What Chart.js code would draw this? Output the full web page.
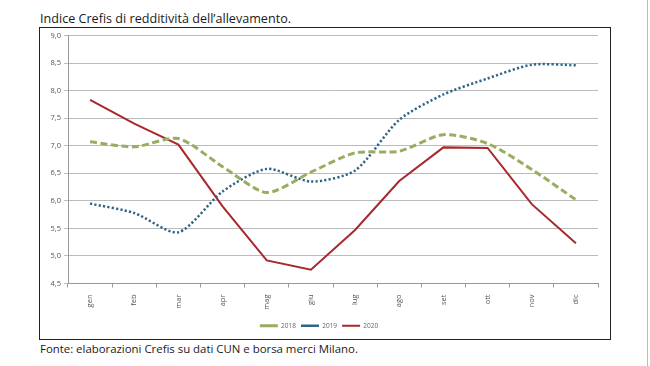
<!DOCTYPE html>
<html>
<head>
<meta charset="utf-8">
<script src="https://cdn.jsdelivr.net/npm/chart.js@4.4.0/dist/chart.umd.min.js"></script>
<style>
  body { margin: 0; background: #fff; width: 650px; height: 366px; position: relative; overflow: hidden; font-family: "Open Sans", sans-serif; }
  .title { position: absolute; left: 40px; top: 10px; font-size: 12.6px; color: #1a1a1a; white-space: nowrap; }
  .foot { position: absolute; left: 40px; top: 341px; font-size: 11.4px; color: #1a1a1a; white-space: nowrap; }
  .box { position: absolute; left: 39px; top: 27px; width: 570px; height: 311px; border: 1.5px solid #222; }
  .edge { position: absolute; left: 647px; top: 0; width: 1px; height: 366px; background: #bbb; }
</style>
</head>
<body>
<div class="title">Indice Crefis di redditività dell’allevamento.</div>
<div class="box"><canvas id="chart"></canvas></div>
<div class="foot">Fonte: elaborazioni Crefis su dati CUN e borsa merci Milano.</div>
<div class="edge"></div>
<script>
const months = ['gen', 'feb', 'mar', 'apr', 'mag', 'giu', 'lug', 'ago', 'set', 'ott', 'nov', 'dic'];
const y2018 = [7.07, 6.98, 7.13, 6.62, 6.15, 6.52, 6.87, 6.9, 7.2, 7.04, 6.57, 6.02];
const y2019 = [5.95, 5.78, 5.43, 6.17, 6.58, 6.35, 6.55, 7.47, 7.93, 8.22, 8.47, 8.46];
const y2020 = [7.83, 7.4, 7.02, 5.9, 4.92, 4.75, 5.47, 6.36, 6.97, 6.96, 5.94, 5.23];

const small = { family: 'Open Sans', size: 7.5 };

new Chart(document.getElementById('chart'), {
  type: 'line',
  data: {
    labels: months,
    datasets: [
      { label: '2018', data: y2018, borderColor: '#98ad62', borderWidth: 3, borderDash: [7, 3.5],
        tension: 0.25, pointRadius: 0, pointStyle: 'line' },
      { label: '2019', data: y2019, borderColor: '#2f6585', borderWidth: 2.5, borderDash: [2.2, 2.2],
        tension: 0.25, pointRadius: 0, pointStyle: 'line' },
      { label: '2020', data: y2020, borderColor: '#a8282c', borderWidth: 2,
        tension: 0, pointRadius: 0, pointStyle: 'line' }
    ]
  },
  options: {
    responsive: true,
    maintainAspectRatio: false,
    animation: false,
    layout: { padding: { top: 4, right: 12, left: 0, bottom: 0 } },
    plugins: {
      tooltip: { enabled: false },
      legend: {
        position: 'bottom',
        labels: {
          usePointStyle: true, pointStyleWidth: 18, boxHeight: 5,
          color: '#666', font: { family: 'Open Sans', size: 6.5 }, padding: 5
        }
      }
    },
    scales: {
      x: {
        offset: true,
        grid: { offset: true, drawOnChartArea: false, tickLength: 4, color: '#999' },
        border: { color: '#999' },
        ticks: { color: '#555', font: small, maxRotation: 90, minRotation: 90, padding: 7 },
        afterFit: s => { s.height = 34; }
      },
      y: {
        min: 4.5, max: 9,
        grid: { color: '#bbb', tickLength: 4 },
        border: { color: '#999' },
        ticks: { stepSize: 0.5, color: '#555', font: small, padding: 3,
          callback: v => v.toFixed(1).replace('.', ',') },
        afterFit: s => { s.width = 28; }
      }
    }
  }
});
</script>
</body>
</html>
